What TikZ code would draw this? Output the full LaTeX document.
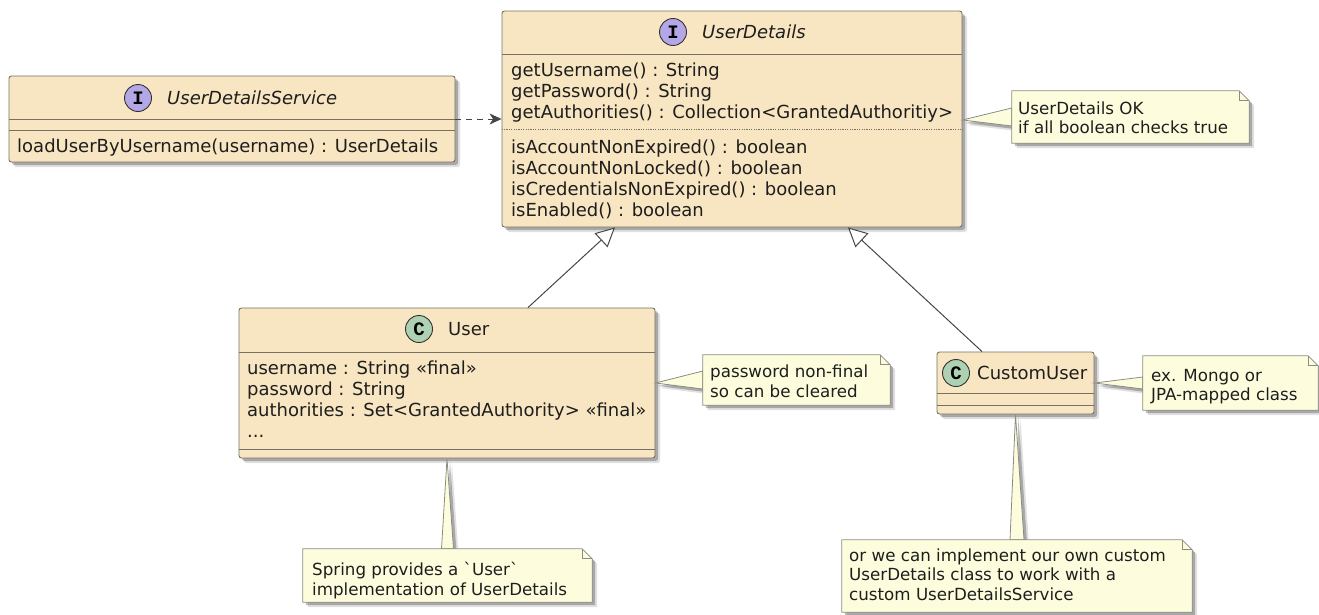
\documentclass[tikz,border=0pt]{standalone}
\usepackage{fontspec}
\setmainfont{DejaVu Sans}[Ligatures=TeXOff]
\newfontfamily\lmono{Liberation Mono}
\usetikzlibrary{arrows.meta,shadows}
\definecolor{boxfill}{RGB}{248,230,194}
\definecolor{boxline}{RGB}{120,112,100}
\definecolor{notefill}{RGB}{253,253,222}
\definecolor{noteline}{RGB}{140,140,130}
\definecolor{ifcirc}{RGB}{180,167,229}
\definecolor{clcirc}{RGB}{173,209,178}
\definecolor{txtc}{RGB}{30,30,30}
\definecolor{edgec}{RGB}{70,70,70}
\newcommand\foldnote[1]{%
  \path[notestyle] (#1.north west) -- ([xshift=-10pt]#1.north east) -- ([yshift=-10pt]#1.north east) -- (#1.south east) -- (#1.south west) -- cycle;
  \draw[draw=noteline,line width=0.8pt] ([xshift=-10pt]#1.north east) -- ([xshift=-10pt,yshift=-10pt]#1.north east) -- ([yshift=-10pt]#1.north east);}
\begin{document}
\begin{tikzpicture}[x=1pt,y=-1pt,
  shadowed/.style={drop shadow={shadow xshift=5pt,shadow yshift=-5pt,opacity=0.12,fill=black},
                   drop shadow={shadow xshift=3pt,shadow yshift=-3pt,opacity=0.25,fill=black}},
  classbox/.style={draw=boxline,fill=boxfill,rounded corners=2.5pt,line width=0.9pt,inner sep=0,shadowed},
  notebox/.style={inner sep=0},
  notestyle/.style={draw=noteline,fill=notefill,line width=0.8pt,shadowed},
  wedge/.style={draw=noteline,fill=notefill,line width=0.8pt,shadowed},
  sep/.style={draw=boxline,line width=0.9pt},
  dotsep/.style={draw=boxline,line width=0.8pt,dash pattern=on 1.2pt off 1.2pt},
  txt/.style={anchor=base west,inner sep=0,text=txtc,font=\fontsize{18}{21}\selectfont},
  ttl/.style={anchor=base west,inner sep=0,text=txtc,font=\fontsize{18}{21}\selectfont\itshape},
  notetxt/.style={anchor=base west,inner sep=0,text=txtc,font=\fontsize{16.7}{19.5}\selectfont},
  badge/.style={circle,draw=black!80,line width=0.9pt,minimum size=27pt,inner sep=0,font=\lmono\bfseries\fontsize{19}{19}\selectfont},
  dep/.style={draw=edgec,line width=1pt,dash pattern=on 6pt off 5pt,-{Stealth[length=12pt,width=11pt,inset=3.5pt]}},
  inh/.style={draw=edgec,line width=1pt,-{Triangle[open,length=19pt,width=19pt,fill=white]}}]
\useasboundingbox (0,0) rectangle (1319,614);

% class boxes
\node[classbox,minimum width=446pt,minimum height=86pt] (uds) at (232,119) {};
\node[classbox,minimum width=460pt,minimum height=216pt] (ud) at (732,119) {};
\node[classbox,minimum width=416pt,minimum height=150pt] (user) at (447,383) {};
\node[classbox,minimum width=157pt,minimum height=62pt] (cu) at (1015.5,383) {};

% separators
\draw[sep] (uds.west |- 0,119) -- (uds.east |- 0,119);
\draw[sep] (uds.west |- 0,130) -- (uds.east |- 0,130);
\draw[sep] (ud.west |- 0,54) -- (ud.east |- 0,54);
\draw[dotsep] (ud.west |- 0,129) -- (ud.east |- 0,129);
\draw[sep] (user.west |- 0,352) -- (user.east |- 0,352);
\draw[sep] (user.west |- 0,449) -- (user.east |- 0,449);
\draw[sep] (cu.west |- 0,393) -- (cu.east |- 0,393);
\draw[sep] (cu.west |- 0,405) -- (cu.east |- 0,405);

% UserDetailsService
\node[badge,fill=ifcirc] (b1) at (138,98) {I};
\node[ttl] (uds-t) at (167,104) {UserDetailsService};
\node[txt] (uds-m1) at (17,152) {loadUserByUsername(username) : UserDetails};

% UserDetails
\node[badge,fill=ifcirc] (b2) at (673,32) {I};
\node[ttl] (ud-t) at (702,38) {UserDetails};
\node[txt] (ud-m1) at (511,76) {getUsername() : String};
\node[txt] (ud-m2) at (511,97) {getPassword() : String};
\node[txt] (ud-m3) at (511,118) {getAuthorities() : Collection<GrantedAuthoritiy>};
\node[txt] (ud-m4) at (511,153) {isAccountNonExpired() : boolean};
\node[txt] (ud-m5) at (511,174) {isAccountNonLocked() : boolean};
\node[txt] (ud-m6) at (511,195) {isCredentialsNonExpired() : boolean};
\node[txt] (ud-m7) at (511,216) {isEnabled() : boolean};

% User
\node[badge,fill=clcirc] (b3) at (419,329) {C};
\node[txt] (user-t) at (448,335) {User};
\node[txt] (user-a1) at (247,374) {username : String «final»};
\node[txt] (user-a2) at (247,395) {password : String};
\node[txt] (user-a3) at (247,416) {authorities : Set<GrantedAuthority> «final»};
\node[txt] (user-a4) at (247,437) {...};

% CustomUser
\node[badge,fill=clcirc] (b4) at (956,373) {C};
\node[txt] (cu-t) at (977,379) {CustomUser};

% arrows
\draw[dep] (uds.east) -- (ud.west);
\draw[inh] ([xshift=81pt]user.north) -- ([xshift=-117pt]ud.south);
\draw[inh] ([xshift=-33.5pt]cu.north) -- ([xshift=116pt]ud.south);

% notes
\node[notebox,minimum width=237pt,minimum height=52pt] (n1) at (1130.5,117) {};
\node[notebox,minimum width=187pt,minimum height=50pt] (n2) at (796.5,380) {};
\node[notebox,minimum width=175pt,minimum height=54pt] (n3) at (1230.5,383) {};
\node[notebox,minimum width=289pt,minimum height=53pt] (n4) at (447.5,575.5) {};
\node[notebox,minimum width=350pt,minimum height=72pt] (n5) at (1017,576) {};

\path[wedge] ([yshift=-1pt]ud.east) -- ([yshift=9pt]n1.west) -- ([yshift=-9pt]n1.west) -- cycle;
\path[wedge] (user.east) -- ([yshift=9pt]n2.west) -- ([yshift=-9pt]n2.west) -- cycle;
\path[wedge] (cu.east) -- ([yshift=6pt]n3.west) -- ([yshift=-6pt]n3.west) -- cycle;
\path[wedge] (user.south) -- ([xshift=-6pt]n4.north) -- ([xshift=6pt]n4.north) -- cycle;
\path[wedge] (cu.south) -- ([xshift=-7pt]n5.north) -- ([xshift=7pt]n5.north) -- cycle;

\foldnote{n1}
\foldnote{n2}
\foldnote{n3}
\foldnote{n4}
\foldnote{n5}

\node[notetxt] (n1-l1) at (1018,114) {UserDetails OK};
\node[notetxt] (n1-l2) at (1018,133) {if all boolean checks true};
\node[notetxt] (n2-l1) at (710,377) {password non-final};
\node[notetxt] (n2-l2) at (710,397) {so can be cleared};
\node[notetxt] (n3-l1) at (1151,381) {ex. Mongo or};
\node[notetxt] (n3-l2) at (1151,400) {JPA-mapped class};
\node[notetxt] (n4-l1) at (312,575) {Spring provides a `User`};
\node[notetxt] (n4-l2) at (312,595) {implementation of UserDetails};
\node[notetxt] (n5-l1) at (849,561) {or we can implement our own custom};
\node[notetxt] (n5-l2) at (849,580) {UserDetails class to work with a};
\node[notetxt] (n5-l3) at (849,600) {custom UserDetailsService};
\end{tikzpicture}
\end{document}
